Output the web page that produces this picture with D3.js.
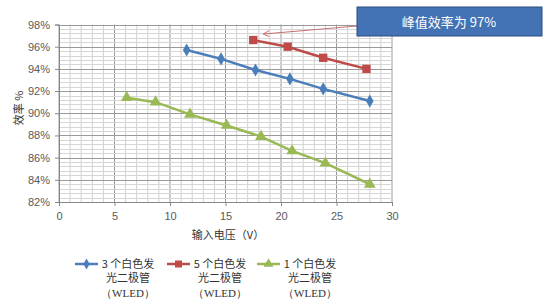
<!DOCTYPE html>
<html>
<head>
<meta charset="utf-8">
<script src="https://cdn.jsdelivr.net/npm/d3@7"></script>
<style>
	body { margin: 0; background: #fff; }
	svg { display: block; }
</style>
</head>
<body>
<div id="chart"></div>
<script>
// data
const seriesNames = ["3 个白色发", "5 个白色发", "1 个白色发"];
const blueX = [11.5, 14.6, 17.7, 20.8, 23.8, 28.0];
const blueY = [0.957, 0.949, 0.939, 0.931, 0.922, 0.911];
const redX = [17.5, 20.6, 23.8, 27.7];
const redY = [0.966, 0.960, 0.950, 0.940];
const greenX = [6.1, 8.7, 11.8, 15.1, 18.2, 21.0, 24.0, 28.0];
const greenY = [0.914, 0.910, 0.899, 0.889, 0.879, 0.866, 0.855, 0.836];
const xTicks = [0, 5, 10, 15, 20, 25, 30];
const yTicks = [0.82, 0.84, 0.86, 0.88, 0.90, 0.92, 0.94, 0.96, 0.98];
const calloutText = "峰值效率为 97%";

const width = 550, height = 304;

const svg = d3.select("#chart")
	.append("svg")
	.attr("width", width)
	.attr("height", height);

svg.append("rect").attr("width", width).attr("height", height).attr("fill", "#fff");

const x = d3.scaleLinear().domain([0, 30]).range([59, 392]);
const y = d3.scaleLinear().domain([0.82, 0.98]).range([202, 24.5]);

// grid: minor then major
const grid = svg.append("g");
grid.selectAll(".vminor")
	.data(d3.range(0, 31, 1))
	.join("line")
	.attr("x1", d => x(d)).attr("x2", d => x(d))
	.attr("y1", y(0.98)).attr("y2", y(0.82))
	.attr("stroke", d => d % 5 === 0 ? "#9a9a9a" : "#cfcfcf")
	.attr("stroke-width", 1);

grid.selectAll(".hminor")
	.data(d3.range(0, 41).map(i => 0.82 + i * 0.004))
	.join("line")
	.attr("x1", x(0)).attr("x2", x(30))
	.attr("y1", d => Math.round(y(d)) + 0.5).attr("y2", d => Math.round(y(d)) + 0.5)
	.attr("stroke", (d, i) => i % 5 === 0 ? "#9a9a9a" : "#d6d6d6")
	.attr("stroke-width", 1);

// axes
const yAxis = svg.append("g")
	.attr("transform", `translate(${x(0)},0)`)
	.call(d3.axisLeft(y).tickValues(yTicks).tickFormat(d3.format(".0%")).tickSize(4).tickPadding(5));
const xAxis = svg.append("g")
	.attr("transform", `translate(0,${y(0.82)})`)
	.call(d3.axisBottom(x).tickValues(xTicks).tickSize(4).tickPadding(6));

[xAxis, yAxis].forEach(a => {
	a.select(".domain").attr("stroke", "#888");
	a.selectAll(".tick line").attr("stroke", "#888");
	a.selectAll("text")
		.attr("fill", "#5a5a5a")
		.style("font-family", "'Liberation Sans', Arial, sans-serif")
		.style("font-size", "11px");
});

// axis titles
svg.append("text")
	.attr("transform", `translate(19,108)rotate(-90)`)
	.attr("text-anchor", "middle")
	.attr("dy", "0.35em")
	.style("font-family", "'Noto Sans CJK SC', sans-serif")
	.style("font-size", "11px")
	.attr("fill", "#333")
	.text("效率 %");

svg.append("text")
	.attr("x", 228)
	.attr("y", 239)
	.attr("text-anchor", "middle")
	.style("font-family", "'Noto Sans CJK SC', sans-serif")
	.style("font-size", "11px")
	.attr("fill", "#333")
	.text("输入电压（V）");

// series
const series = [
	{ xs: blueX, ys: blueY, color: "#4a7ebb", shape: d3.symbolDiamond, size: 50 },
	{ xs: redX, ys: redY, color: "#be4b48", shape: d3.symbolSquare, size: 70 },
	{ xs: greenX, ys: greenY, color: "#98b954", shape: d3.symbolTriangle, size: 60 },
];

const line = d3.line().x(d => x(d[0])).y(d => y(d[1]));

series.forEach(s => {
	const pts = s.xs.map((v, i) => [v, s.ys[i]]);
	svg.append("path")
		.datum(pts)
		.attr("d", line)
		.attr("fill", "none")
		.attr("stroke", s.color)
		.attr("stroke-width", 2.5);
	svg.selectAll(null)
		.data(pts)
		.join("path")
		.attr("transform", d => `translate(${x(d[0])},${y(d[1])})`)
		.attr("d", d3.symbol().type(s.shape).size(s.size))
		.attr("fill", s.color);
});

// callout arrow pointing at the peak point
const tipX = x(redX[0]) + 10, tipY = y(redY[0]) - 6;
svg.append("line")
	.attr("x1", 357).attr("y1", 26)
	.attr("x2", tipX).attr("y2", tipY)
	.attr("stroke", "#c9706e")
	.attr("stroke-width", 1);
svg.append("path")
	.attr("d", `M${tipX + 6},${tipY - 3.5} L${tipX},${tipY} L${tipX + 6},${tipY + 2.5}`)
	.attr("fill", "none")
	.attr("stroke", "#c9706e")
	.attr("stroke-width", 1);

svg.append("rect")
	.attr("x", 357).attr("y", 7)
	.attr("width", 185).attr("height", 29)
	.attr("fill", "#4373b5")
	.attr("stroke", "#2c4d7e")
	.attr("stroke-width", 1);
svg.append("text")
	.attr("x", 449).attr("y", 22)
	.attr("dy", "0.35em")
	.attr("text-anchor", "middle")
	.attr("fill", "#fff")
	.style("font-family", "'Noto Sans CJK SC', sans-serif")
	.style("font-size", "13px")
	.text(calloutText);

// legend
const legendX = [75, 167, 257];
series.forEach((s, i) => {
	const g = svg.append("g").attr("transform", `translate(${legendX[i]},264)`);
	g.append("line")
		.attr("x1", 0).attr("x2", 23)
		.attr("stroke", s.color).attr("stroke-width", 2.5);
	g.append("path")
		.attr("transform", "translate(11.5,0)")
		.attr("d", d3.symbol().type(s.shape).size(s.size * 0.7))
		.attr("fill", s.color);
	const lines = [seriesNames[i], "光二极管", "（WLED）"];
	lines.forEach((str, j) => {
		g.append("text")
			.attr("x", 53)
			.attr("y", j * 14.5)
			.attr("dy", "0.35em")
			.attr("text-anchor", "middle")
			.attr("fill", "#333")
			.style("font-family", j === 2 ? "'Liberation Serif', serif" : "'Noto Sans CJK SC', sans-serif")
			.style("font-size", "11px")
			.text(str);
	});
});
</script>
</body>
</html>
